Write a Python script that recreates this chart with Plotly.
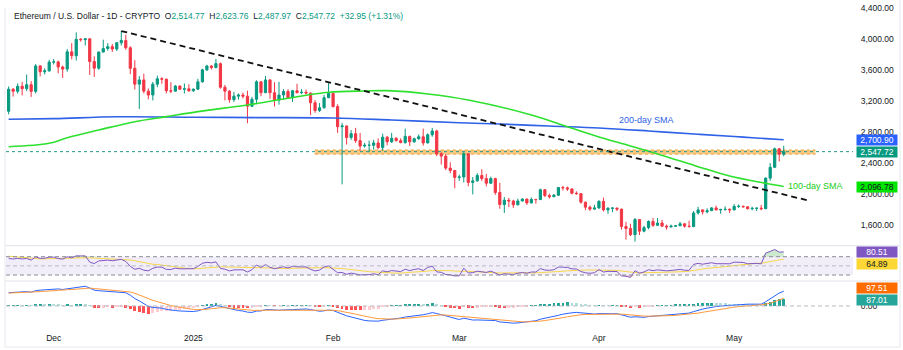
import numpy as np
import pandas as pd
import plotly.graph_objects as go

# ---------------- data ----------------
# daily candles, 2024-11-21 .. 2025-05-12
open_ = [
    # Nov 21-30
    3070, 3355, 3328, 3393, 3362, 3413, 3327, 3656, 3580, 3592,
    # Dec
    3705, 3708, 3642, 3615, 3838, 3787, 4000, 3995, 4006, 3712, 3627, 3835, 3880, 3905, 3874, 3955,
    3985, 3890, 3625, 3420, 3475, 3330, 3280, 3420, 3490, 3485, 3335, 3330, 3395, 3355, 3360,
    # Jan
    3335, 3355, 3450, 3605, 3655, 3635, 3685, 3380, 3330, 3220, 3265, 3280, 3265, 3135, 3225, 3450,
    3310, 3475, 3310, 3215, 3280, 3325, 3245, 3335, 3310, 3315, 3305, 3180, 3080, 3115, 3245,
    # Feb
    3300, 3130, 2870, 2880, 2730, 2780, 2690, 2620, 2630, 2630, 2660, 2600, 2735, 2675, 2720, 2690,
    2665, 2745, 2675, 2715, 2740, 2660, 2765, 2815, 2520, 2490, 2335, 2305,
    # Mar
    2215, 2220, 2520, 2150, 2170, 2240, 2200, 2140, 2200, 2020, 1865, 1920, 1910, 1860, 1910, 1935,
    1885, 1930, 1928, 2055, 1980, 1965, 1985, 2085, 2080, 2065, 2010, 2005, 1895, 1830, 1805,
    # Apr
    1820, 1905, 1795, 1815, 1818, 1805, 1580, 1555, 1475, 1670, 1520, 1565, 1645, 1595, 1625, 1585,
    1575, 1585, 1590, 1615, 1585, 1580, 1755, 1795, 1770, 1785, 1820, 1795, 1800, 1802,
    # May 1-12
    1795, 1840, 1842, 1835, 1810, 1815, 1817, 1810, 2205, 2345, 2585, 2514.77,
]
high_ = [
    3390, 3370, 3430, 3450, 3545, 3460, 3680, 3665, 3625, 3735,
    3745, 3725, 3660, 3875, 3950, 4090, 4015, 4010, 4010, 3780, 3840, 3995, 3950, 3940, 3965, 4107,
    4060, 3910, 3730, 3525, 3555, 3365, 3450, 3530, 3510, 3490, 3445, 3410, 3405, 3430, 3420,
    3365, 3490, 3620, 3670, 3665, 3745, 3700, 3410, 3345, 3320, 3300, 3310, 3335, 3255, 3470, 3460,
    3525, 3485, 3445, 3450, 3355, 3355, 3345, 3425, 3355, 3350, 3310, 3215, 3175, 3280, 3440,
    3330, 3160, 2920, 2885, 2825, 2855, 2790, 2660, 2690, 2700, 2720, 2780, 2750, 2790, 2735, 2720,
    2845, 2755, 2730, 2770, 2845, 2785, 2855, 2830, 2540, 2520, 2410, 2310,
    2250, 2545, 2525, 2220, 2270, 2320, 2260, 2225, 2210, 2145, 1960, 1950, 1925, 1940, 1945, 1940,
    1955, 1935, 2070, 2065, 2005, 2000, 2090, 2105, 2095, 2075, 2035, 2010, 1900, 1850, 1860,
    1920, 1955, 1830, 1830, 1825, 1810, 1640, 1615, 1690, 1675, 1590, 1660, 1690, 1690, 1665, 1605,
    1605, 1600, 1640, 1620, 1655, 1780, 1835, 1800, 1815, 1830, 1850, 1810, 1840, 1815,
    1870, 1865, 1848, 1840, 1835, 1825, 1860, 2215, 2400, 2600, 2595, 2623.76,
]
low_ = [
    3030, 3260, 3300, 3275, 3330, 3255, 3300, 3520, 3545, 3580,
    3675, 3560, 3500, 3580, 3740, 3725, 3970, 3920, 3540, 3515, 3605, 3830, 3855, 3835, 3850, 3920,
    3865, 3550, 3350, 3100, 3300, 3225, 3210, 3380, 3425, 3300, 3305, 3325, 3350, 3300, 3320,
    3320, 3345, 3440, 3590, 3610, 3625, 3360, 3210, 3180, 3190, 3220, 3235, 2915, 3125, 3160, 3265,
    3305, 3230, 3130, 3155, 3220, 3235, 3190, 3300, 3290, 3290, 3020, 3050, 3060, 3105, 3240,
    3120, 2790, 2125, 2640, 2700, 2660, 2560, 2600, 2540, 2575, 2580, 2560, 2630, 2660, 2680, 2655,
    2650, 2620, 2660, 2700, 2625, 2655, 2740, 2490, 2380, 2310, 2270, 2075,
    2170, 2150, 2100, 1995, 2160, 2170, 2100, 2130, 1990, 1810, 1755, 1830, 1820, 1855, 1905, 1860,
    1880, 1875, 1925, 1960, 1940, 1960, 1975, 2045, 2040, 1995, 1990, 1875, 1790, 1780, 1795,
    1810, 1775, 1745, 1765, 1780, 1540, 1410, 1455, 1385, 1470, 1505, 1545, 1575, 1590, 1580, 1540,
    1565, 1575, 1585, 1565, 1565, 1570, 1735, 1735, 1750, 1780, 1790, 1745, 1785, 1755,
    1790, 1820, 1825, 1800, 1790, 1780, 1790, 1805, 2170, 2340, 2420, 2487.97,
]
close_ = [
    3355, 3328, 3393, 3362, 3413, 3327, 3656, 3580, 3592, 3705,
    3708, 3642, 3615, 3838, 3787, 4000, 3995, 4006, 3712, 3627, 3835, 3880, 3905, 3874, 3955, 3985,
    3890, 3625, 3420, 3475, 3330, 3280, 3420, 3490, 3485, 3335, 3330, 3395, 3355, 3360, 3335,
    3355, 3450, 3605, 3655, 3635, 3685, 3380, 3330, 3220, 3265, 3280, 3265, 3135, 3225, 3450, 3310,
    3475, 3310, 3215, 3280, 3325, 3245, 3335, 3310, 3315, 3305, 3180, 3080, 3115, 3245, 3300,
    3130, 2870, 2880, 2730, 2780, 2690, 2620, 2630, 2630, 2660, 2600, 2735, 2675, 2720, 2690, 2665,
    2745, 2675, 2715, 2740, 2660, 2765, 2815, 2520, 2490, 2335, 2305, 2215,
    2220, 2520, 2150, 2170, 2240, 2200, 2140, 2200, 2020, 1865, 1920, 1910, 1860, 1910, 1935, 1885,
    1930, 1928, 2055, 1980, 1965, 1985, 2085, 2080, 2065, 2010, 2005, 1895, 1830, 1805, 1820,
    1905, 1795, 1815, 1818, 1805, 1580, 1555, 1475, 1670, 1520, 1565, 1645, 1595, 1625, 1585, 1575,
    1585, 1590, 1615, 1585, 1580, 1755, 1795, 1770, 1785, 1820, 1795, 1800, 1802, 1795,
    1840, 1842, 1835, 1810, 1815, 1817, 1810, 2205, 2345, 2585, 2515, 2547.72,
]
dates = pd.date_range("2024-11-21", periods=len(close_), freq="D")

# moving averages
sma200_dates = ["2024-11-21", "2024-12-01", "2024-12-15", "2025-01-01", "2025-01-15", "2025-02-01",
                "2025-02-14", "2025-03-01", "2025-03-10", "2025-03-21", "2025-04-01", "2025-04-12",
                "2025-04-23", "2025-05-01", "2025-05-05", "2025-05-12"]
sma200_vals = [2966, 2975, 2998, 2993, 2988, 2983, 2957, 2922, 2905, 2879, 2854, 2815, 2772, 2744, 2728, 2701]

sma100_dates = ["2024-11-21", "2024-11-30", "2024-12-04", "2024-12-11", "2024-12-19", "2024-12-26",
                "2025-01-02", "2025-01-13", "2025-01-24", "2025-01-31", "2025-02-08", "2025-02-13",
                "2025-02-22", "2025-03-03", "2025-03-17", "2025-03-25", "2025-04-01", "2025-04-08",
                "2025-04-16", "2025-04-23", "2025-04-30", "2025-05-08", "2025-05-12"]
sma100_vals = [2612, 2656, 2728, 2828, 2935, 3000, 3065, 3151, 3258, 3315, 3332, 3336, 3294, 3216,
               3022, 2871, 2738, 2621, 2483, 2354, 2233, 2139, 2097]

trend_dates = ["2024-12-16 00:00", "2025-05-17 20:00"]
trend_vals = [4107, 1910]
zone_dates = ["2025-01-28", "2025-05-19"]
zone_vals = [2515, 2570]

price_ticks = [1600, 2000, 2400, 2800, 3200, 3600, 4000, 4400]
month_ticks = ["2024-12-01", "2025-01-01", "2025-02-01", "2025-03-01", "2025-04-01", "2025-05-01"]
month_labels = ["Dec", "2025", "Feb", "Mar", "Apr", "May"]

# indicator state before the first visible candle (estimated)
rsi_seed_gain, rsi_seed_loss = 75.0, 50.0
rsi_prior = [78, 80, 82, 84, 78, 74, 68, 66, 68, 64, 66, 62, 60]
ema12_seed, ema26_seed, signal_seed = 3080.0, 2925.0, 160.0

# legend / axis value labels shown on the chart
title_vals = {"O": "2,514.77", "H": "2,623.76", "L": "2,487.97", "C": "2,547.72"}
change_txt = "+32.95 (+1.31%)"
last_labels = {"sma200": 2700.90, "last": 2547.72, "sma100": 2096.78,
               "rsi": 80.51, "rsima": 64.89, "sig": 97.51, "hist": 87.01}

# ---------------- indicators ----------------
prev = open_[0]
ag, al = rsi_seed_gain, rsi_seed_loss
rsi = []
for c in close_:
    d = c - prev
    prev = c
    ag = (ag * 13 + max(d, 0)) / 14
    al = (al * 13 + max(-d, 0)) / 14
    rsi.append(100 - 100 / (1 + ag / al))
rsi = np.array(rsi)
rsi_ma = pd.Series(rsi_prior + list(rsi)).rolling(14).mean().to_numpy()[len(rsi_prior):]

e12, e26, sig = ema12_seed, ema26_seed, signal_seed
macd, signal = [], []
for c in close_:
    e12 += (c - e12) * 2 / 13
    e26 += (c - e26) * 2 / 27
    m = e12 - e26
    sig += (m - sig) * 2 / 10
    macd.append(m)
    signal.append(sig)
macd = np.array(macd)
signal = np.array(signal)
hist = macd - signal
hcols = []
p = ema12_seed - ema26_seed - signal_seed
for h in hist:
    if h >= 0:
        hcols.append("#26A69A" if h >= p else "#B2DFDB")
    else:
        hcols.append("#FF5252" if h < p else "#FFCDD2")
    p = h

# ---------------- figure ----------------
W, H = 903, 350
L_M, R_M, T_M, B_M = 6, 50, 0, 26
PH = H - T_M - B_M  # plot height in px
PW = W - L_M - R_M
y_rsi_top, y_macd_top = 245.7, 281.0
d_price = [1 - y_rsi_top / PH, 1]
d_rsi = [1 - y_macd_top / PH, 1 - y_rsi_top / PH]
d_macd = [0, 1 - y_macd_top / PH]

def px_x(px):
    return (px - L_M) / PW

def px_y(py):
    return 1 - (py - T_M) / PH

FONT = "Liberation Sans, Arial, sans-serif"
TXT = "#131722"
GREEN, RED = "#089981", "#F23645"

fig = go.Figure()

fig.add_trace(go.Candlestick(
    x=dates, open=open_, high=high_, low=low_, close=close_,
    increasing=dict(line=dict(color=GREEN, width=1), fillcolor=GREEN),
    decreasing=dict(line=dict(color=RED, width=1), fillcolor=RED),
    xaxis="x", yaxis="y", showlegend=False, hoverinfo="skip"))

fig.add_trace(go.Scatter(x=sma200_dates, y=sma200_vals, mode="lines",
                         line=dict(color="#2F62E6", width=1.6, shape="spline"),
                         xaxis="x", yaxis="y", showlegend=False))
fig.add_trace(go.Scatter(x=sma100_dates, y=sma100_vals, mode="lines",
                         line=dict(color="#2EE02E", width=1.6, shape="spline"),
                         xaxis="x", yaxis="y", showlegend=False))
fig.add_trace(go.Scatter(x=trend_dates, y=trend_vals, mode="lines",
                         line=dict(color="#111111", width=1.8, dash="6px,4px"),
                         xaxis="x", yaxis="y", showlegend=False))

# RSI pane
fig.add_trace(go.Scatter(x=dates, y=[70] * len(dates), mode="lines", line=dict(width=0),
                         xaxis="x2", yaxis="y2", showlegend=False, hoverinfo="skip"))
fig.add_trace(go.Scatter(x=dates, y=np.maximum(rsi, 70), mode="lines", line=dict(width=0),
                         fill="tonexty", fillcolor="rgba(76,175,80,0.28)",
                         xaxis="x2", yaxis="y2", showlegend=False, hoverinfo="skip"))
fig.add_trace(go.Scatter(x=dates, y=[30] * len(dates), mode="lines", line=dict(width=0),
                         xaxis="x2", yaxis="y2", showlegend=False, hoverinfo="skip"))
fig.add_trace(go.Scatter(x=dates, y=np.minimum(rsi, 30), mode="lines", line=dict(width=0),
                         fill="tonexty", fillcolor="rgba(242,54,69,0.22)",
                         xaxis="x2", yaxis="y2", showlegend=False, hoverinfo="skip"))
fig.add_trace(go.Scatter(x=dates, y=rsi_ma, mode="lines", line=dict(color="#F7D64A", width=1),
                         xaxis="x2", yaxis="y2", showlegend=False))
fig.add_trace(go.Scatter(x=dates, y=rsi, mode="lines", line=dict(color="#7E57C2", width=1),
                         xaxis="x2", yaxis="y2", showlegend=False))

# MACD pane
fig.add_trace(go.Bar(x=dates, y=hist, marker=dict(color=hcols, line=dict(width=0)),
                     width=0.62 * 86400000, xaxis="x3", yaxis="y3", showlegend=False))
fig.add_trace(go.Scatter(x=dates, y=macd, mode="lines", line=dict(color="#2962FF", width=1),
                         xaxis="x3", yaxis="y3", showlegend=False))
fig.add_trace(go.Scatter(x=dates, y=signal, mode="lines", line=dict(color="#FF9A3C", width=1),
                         xaxis="x3", yaxis="y3", showlegend=False))

x_range = ["2024-11-20 10:00", "2025-05-27 09:00"]
ax_common = dict(range=x_range, showgrid=False, zeroline=False, showline=False, type="date")
fig.update_layout(
    width=W, height=H, margin=dict(l=L_M, r=R_M, t=T_M, b=B_M),
    paper_bgcolor="white", plot_bgcolor="white",
    font=dict(family=FONT, size=8.5, color=TXT),
    bargap=0, showlegend=False,
    xaxis=dict(**ax_common, domain=[0, 1], anchor="y", showticklabels=False,
               rangeslider=dict(visible=False), matches="x3"),
    xaxis2=dict(**ax_common, domain=[0, 1], anchor="y2", showticklabels=False, matches="x3"),
    xaxis3=dict(**ax_common, domain=[0, 1], anchor="y3", tickmode="array",
                tickvals=month_ticks, ticktext=month_labels,
                ticks="outside", ticklen=6, tickcolor="rgba(0,0,0,0)",
                tickfont=dict(size=8.5, color=TXT)),
    yaxis=dict(domain=d_price, range=[1332, 4508], side="right", anchor="x",
               tickmode="array", tickvals=price_ticks, tickformat=",.2f",
               showgrid=False, zeroline=False, showline=False,
               ticks="outside", ticklen=5, tickcolor="rgba(0,0,0,0)",
               tickfont=dict(size=8.5, color=TXT)),
    yaxis2=dict(domain=d_rsi, range=[17, 94], side="right", anchor="x2",
                showticklabels=False, showgrid=False, zeroline=False, showline=False),
    yaxis3=dict(domain=d_macd, range=[-225, 312], side="right", anchor="x3",
                tickmode="array", tickvals=[0], tickformat=".2f",
                showgrid=False, zeroline=False, showline=False,
                ticks="outside", ticklen=5, tickcolor="rgba(0,0,0,0)",
                tickfont=dict(size=8.5, color=TXT)),
)

shapes = []
shapes.append(dict(type="rect", xref="x", yref="y", x0=zone_dates[0], x1=zone_dates[1],
                   y0=zone_vals[0], y1=zone_vals[1], fillcolor="rgba(244,170,60,0.62)",
                   line=dict(color="rgba(232,150,40,0.8)", width=1, dash="dot"), layer="below"))
shapes.append(dict(type="line", xref="paper", yref="y", x0=0, x1=1,
                   y0=close_[-1], y1=close_[-1], line=dict(color="#22998A", width=1, dash="dot")))
shapes.append(dict(type="rect", xref="paper", yref="y2", x0=0, x1=1, y0=30, y1=70,
                   fillcolor="rgba(126,87,194,0.10)", line=dict(width=0), layer="below"))
for lv, col in [(70, "#8A8D96"), (50, "#B8BAC2"), (30, "#8A8D96")]:
    shapes.append(dict(type="line", xref="paper", yref="y2", x0=0, x1=1, y0=lv, y1=lv,
                       line=dict(color=col, width=1, dash="4px,3px")))
shapes.append(dict(type="line", xref="paper", yref="y3", x0=0, x1=1, y0=0, y1=0,
                   line=dict(color="#B8BAC2", width=1, dash="4px,3px")))
for yy in (y_rsi_top, y_macd_top):
    shapes.append(dict(type="line", xref="paper", yref="paper", x0=px_x(5), x1=px_x(900),
                       y0=px_y(yy), y1=px_y(yy), line=dict(color="#E0E3EB", width=1)))
shapes.append(dict(type="line", xref="paper", yref="paper", x0=px_x(5), x1=px_x(5),
                   y0=px_y(347), y1=px_y(8), line=dict(color="#E6E8EE", width=1)))
shapes.append(dict(type="line", xref="paper", yref="paper", x0=px_x(900), x1=px_x(900),
                   y0=px_y(347), y1=px_y(0), line=dict(color="#E6E8EE", width=1)))
shapes.append(dict(type="line", xref="paper", yref="paper", x0=px_x(5), x1=px_x(900),
                   y0=px_y(347), y1=px_y(347), line=dict(color="#E6E8EE", width=1)))
fig.update_layout(shapes=shapes)

ann = []
tv = "color:#089981"
title = ("Ethereum / U.S. Dollar - 1D - CRYPTO  "
         + "".join(f"{k}<span style='{tv}'>{v}</span>  " for k, v in title_vals.items())
         + f"<span style='{tv}'>{change_txt}</span>")
ann.append(dict(text=title, xref="paper", yref="paper", x=px_x(12), y=px_y(16),
                xanchor="left", yanchor="middle", showarrow=False,
                font=dict(size=8.5, color=TXT)))
ann.append(dict(text="200-day SMA", xref="x", yref="y", x="2025-04-11 14:00", y=2957,
                xanchor="center", yanchor="middle", showarrow=False,
                font=dict(size=9, color="#2F62E6")))
ann.append(dict(text="100-day SMA", xref="x", yref="y", x="2025-05-12 12:00", y=2108,
                xanchor="left", yanchor="middle", showarrow=False,
                font=dict(size=9, color="#22CC22")))

def tag(val, yref, bg, fg, yshift=0, fmt=",.2f"):
    return dict(text=format(val, fmt), xref="paper", yref=yref, x=1, y=val,
                xanchor="left", yanchor="middle", xshift=3, yshift=yshift,
                showarrow=False, bgcolor=bg, width=40, height=10, borderpad=0,
                align="center", font=dict(size=8.5, color=fg))

ann.append(tag(last_labels["sma200"], "y", "#2962FF", "white"))
ann.append(tag(last_labels["last"], "y", "#089981", "white"))
ann.append(tag(last_labels["sma100"], "y", "#00E600", TXT))
ann.append(tag(last_labels["rsi"], "y2", "#7E57C2", "white"))
ann.append(tag(last_labels["rsima"], "y2", "#FDD835", TXT, yshift=-5))
ann.append(tag(last_labels["sig"], "y3", "#FF6D00", "white", yshift=10))
ann.append(tag(last_labels["hist"], "y3", "#26A69A", "white", yshift=-1))
fig.update_layout(annotations=ann)

fig.write_html("out.html")
